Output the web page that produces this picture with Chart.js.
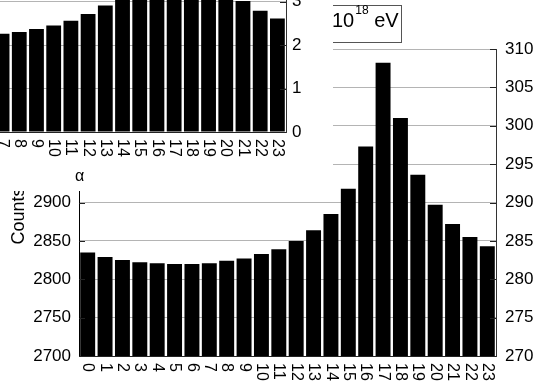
<!DOCTYPE html>
<html>
<head>
<meta charset="utf-8">
<script src="https://cdn.jsdelivr.net/npm/chart.js@4.4.0/dist/chart.umd.min.js"></script>
<style>
  html, body { margin: 0; padding: 0; background: #fff; }
  body { width: 536px; height: 385px; position: relative; overflow: hidden; }
  #mainWrap { position: absolute; left: 0; top: 0; }
  /* small panel sits on top of the big one, partly off the page */
  #insetWrap { position: absolute; left: -210px; top: -60px; width: 543px; height: 251px; background: #fff; }
</style>
</head>
<body>
<div id="mainWrap"><canvas id="mainChart" width="536" height="385"></canvas></div>
<div id="insetWrap"><canvas id="insetChart" width="543" height="251"></canvas></div>
<script>
// hour of day (alpha)
const hours = ['0', '1', '2', '3', '4', '5', '6', '7', '8', '9', '10', '11',
               '12', '13', '14', '15', '16', '17', '18', '19', '20', '21', '22', '23'];

// counts per hour, big panel
const counts = [2835, 2829, 2825, 2822, 2821, 2820, 2820, 2821, 2824, 2827, 2833, 2839,
                2850, 2864, 2885, 2918, 2973, 3082, 3010, 2936, 2897, 2872, 2855, 2843];

// small panel values
const insetValues = [2.45, 2.38, 2.32, 2.28, 2.25, 2.23, 2.24, 2.26, 2.30, 2.37, 2.45, 2.56,
                     2.71, 2.91, 3.15, 3.40, 3.70, 3.90, 3.75, 3.50, 3.25, 3.01, 2.79, 2.61];

const countTicks = [2700, 2750, 2800, 2850, 2900, 2950, 3000, 3050, 3100];
const rightTicks = [270, 275, 280, 285, 290, 295, 300, 305, 310];
const insetTicks = [0, 1, 2, 3, 4];

const legendBase = '10';
const legendExp = '18';
const legendUnit = ' eV';
const yTitle = 'Counts';
const xTitle = 'α';

const FONT = '"Liberation Sans", Arial, Helvetica, sans-serif';

// hour labels written top-to-bottom under each bar, plus short inward axis ticks
const downLabels = {
  id: 'downLabels',
  afterDraw(chart, args, opts) {
    const x = chart.scales.x;
    const area = chart.chartArea;
    const ctx = chart.ctx;
    ctx.save();
    ctx.fillStyle = '#000';
    ctx.font = opts.size + 'px ' + FONT;
    ctx.textAlign = 'left';
    ctx.textBaseline = 'middle';
    chart.data.labels.forEach((lab, i) => {
      ctx.save();
      ctx.translate(x.getPixelForValue(i), x.top + opts.gap);
      ctx.rotate(Math.PI / 2);
      ctx.fillText(lab, 0, 0);
      ctx.restore();
    });
    if (opts.title) {
      ctx.textAlign = 'center';
      ctx.font = '16px ' + FONT;
      ctx.fillText(opts.title, (area.left + area.right) / 2, x.top + opts.titleGap);
    }
    // inward tick marks on the vertical axes
    ctx.strokeStyle = '#222';
    ctx.lineWidth = 1;
    Object.values(chart.scales).forEach(s => {
      if (s.axis !== 'y') return;
      const edge = s.position === 'left' ? area.left : area.right;
      const dir = s.position === 'left' ? 1 : -1;
      s.ticks.forEach(t => {
        const py = Math.round(s.getPixelForValue(t.value)) + 0.5;
        ctx.beginPath();
        ctx.moveTo(edge, py);
        ctx.lineTo(edge + dir * 6, py);
        ctx.stroke();
      });
    });
    ctx.restore();
  }
};

// y title and energy box on the big panel
const extras = {
  id: 'extras',
  afterDraw(chart) {
    const ctx = chart.ctx;
    ctx.save();
    ctx.fillStyle = '#000';
    ctx.font = '18px ' + FONT;
    ctx.textAlign = 'center';
    ctx.textBaseline = 'middle';
    ctx.translate(19, 216);
    ctx.rotate(-Math.PI / 2);
    ctx.fillText(yTitle, 0, 0);
    ctx.restore();

    ctx.save();
    ctx.fillStyle = '#fff';
    ctx.fillRect(300, 5, 101, 37);
    ctx.strokeStyle = '#555';
    ctx.lineWidth = 1;
    ctx.strokeRect(300.5, 5.5, 101, 37);
    ctx.fillStyle = '#000';
    ctx.textBaseline = 'alphabetic';
    ctx.textAlign = 'left';
    let tx = 332;
    ctx.font = '20px ' + FONT;
    ctx.fillText(legendBase, tx, 27);
    tx += ctx.measureText(legendBase).width + 1;
    ctx.font = '12px ' + FONT;
    ctx.fillText(legendExp, tx, 14);
    tx += ctx.measureText(legendExp).width;
    ctx.font = '20px ' + FONT;
    ctx.fillText(legendUnit, tx, 27);
    ctx.restore();
  }
};

const tickFont = { family: FONT, size: 17 };
const plain = v => String(v);

new Chart(document.getElementById('mainChart'), {
  type: 'bar',
  data: {
    labels: hours,
    datasets: [{
      data: counts,
      backgroundColor: '#000',
      borderWidth: 0,
      barPercentage: 0.86,
      categoryPercentage: 1.0,
      yAxisID: 'y'
    }]
  },
  options: {
    responsive: false,
    animation: false,
    layout: { padding: { top: 49, left: 0, right: 0, bottom: 0 } },
    plugins: {
      legend: { display: false },
      tooltip: { enabled: false },
      downLabels: { size: 16, gap: 7 }
    },
    scales: {
      x: {
        grid: { display: false, drawTicks: false },
        border: { color: '#222' },
        ticks: { display: false },
        afterFit: s => { s.height = 29; }
      },
      y: {
        position: 'left',
        min: countTicks[0],
        max: countTicks[countTicks.length - 1],
        afterBuildTicks: s => { s.ticks = countTicks.map(v => ({ value: v })); },
        grid: { color: '#b4b4b4', drawTicks: false },
        border: { color: '#000' },
        ticks: { font: tickFont, color: '#000', padding: 8, callback: plain },
        afterFit: s => { s.width = 79; }
      },
      y2: {
        position: 'right',
        min: rightTicks[0],
        max: rightTicks[rightTicks.length - 1],
        afterBuildTicks: s => { s.ticks = rightTicks.map(v => ({ value: v })); },
        grid: { display: false, drawTicks: false },
        border: { color: '#333' },
        ticks: { font: tickFont, color: '#000', padding: 9, callback: plain },
        afterFit: s => { s.width = 40; }
      }
    }
  },
  plugins: [downLabels, extras]
});

new Chart(document.getElementById('insetChart'), {
  type: 'bar',
  data: {
    labels: hours,
    datasets: [{
      data: insetValues,
      backgroundColor: '#000',
      borderWidth: 0,
      barPercentage: 0.86,
      categoryPercentage: 1.0
    }]
  },
  options: {
    responsive: false,
    animation: false,
    layout: { padding: { top: 18, left: 83, right: 0, bottom: 0 } },
    plugins: {
      legend: { display: false },
      tooltip: { enabled: false },
      downLabels: { size: 16, gap: 7, title: xTitle, titleGap: 45 }
    },
    scales: {
      x: {
        grid: { display: false, drawTicks: false },
        border: { color: '#222' },
        ticks: { display: false },
        afterFit: s => { s.height = 59; }
      },
      y: {
        position: 'right',
        min: insetTicks[0],
        max: insetTicks[insetTicks.length - 1],
        afterBuildTicks: s => { s.ticks = insetTicks.map(v => ({ value: v })); },
        grid: { color: '#b4b4b4', drawTicks: false },
        border: { color: '#333' },
        ticks: { font: tickFont, color: '#000', padding: 6, callback: plain },
        afterFit: s => { s.width = 47; }
      }
    }
  },
  plugins: [downLabels]
});
</script>
</body>
</html>
